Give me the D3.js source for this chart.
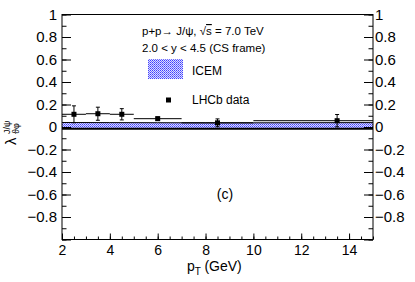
<!DOCTYPE html>
<html>
<head>
<meta charset="utf-8">
<script src="https://cdn.jsdelivr.net/npm/d3@7"></script>
<style>
  body { margin:0; background:#fff; }
  svg { display:block; font-family:"Liberation Sans", Arial, sans-serif; }
</style>
</head>
<body>
<svg id="chart" width="415" height="282"></svg>
<script>
// LHCb data points (pT bins, lambda_theta_phi)
const dataX    = [2.5, 3.5, 4.5, 6, 8.5, 13.5];
const dataXlo  = [2, 3, 4, 5, 7, 10];
const dataXhi  = [3, 4, 5, 7, 10, 15];
const dataY    = [0.113, 0.118, 0.113, 0.074, 0.037, 0.056];
const dataYerr = [0.075, 0.058, 0.05, 0.015, 0.035, 0.055];

// ICEM band
const bandX  = [2, 4, 6, 8, 10, 12, 15];
const bandHi = [0.040, 0.039, 0.038, 0.037, 0.037, 0.038, 0.039];
const bandLo = [-0.016, -0.016, -0.015, -0.015, -0.015, -0.015, -0.016];

const xMajor = [2, 4, 6, 8, 10, 12, 14];
const yMajor = [-1, -0.8, -0.6, -0.4, -0.2, 0, 0.2, 0.4, 0.6, 0.8, 1];

const svg = d3.select('#chart');
const m = {left:62, right:373, top:14.5, bottom:239.5};

const x = d3.scaleLinear().domain([2, 15]).range([m.left, m.right]);
const y = d3.scaleLinear().domain([-1, 1]).range([m.bottom, m.top]);

// hatch pattern for ICEM
const defs = svg.append('defs');
const pat = defs.append('pattern').attr('id','icem')
    .attr('width',2).attr('height',2).attr('patternUnits','userSpaceOnUse');
pat.append('rect').attr('width',2).attr('height',2).attr('fill','#dedeff');
pat.append('rect').attr('width',1).attr('height',1).attr('fill','#4040ff');
pat.append('rect').attr('x',1).attr('y',1).attr('width',1).attr('height',1).attr('fill','#7070ff');

const fmt = v => v === 0 ? '0' : (v === 1 ? '1' : d3.format('.1f')(v).replace('-', '\u2212'));

// band
const band = bandX.map((d,i) => ({x:d, hi:bandHi[i], lo:bandLo[i]}));
svg.append('path').datum(band)
    .attr('fill','url(#icem)')
    .attr('d', d3.area().x(d=>x(d.x)).y0(d=>y(d.lo)).y1(d=>y(d.hi)));
svg.append('path').datum(band)
    .attr('fill','none').attr('stroke','#000').attr('stroke-width',1)
    .attr('d', d3.line().x(d=>x(d.x)).y(d=>y(d.hi)));
svg.append('path').datum(band)
    .attr('fill','none').attr('stroke','#000').attr('stroke-width',2)
    .attr('d', d3.line().x(d=>x(d.x)).y(d=>y(d.lo)));

// data points
const pts = dataX.map((d,i) => ({x:d, lo:dataXlo[i], hi:dataXhi[i], y:dataY[i], e:dataYerr[i]}));
const g = svg.append('g').attr('stroke','#000').attr('stroke-width',1);
g.selectAll('line.xe').data(pts).join('line').attr('class','xe')
    .attr('x1', d=>x(d.lo)).attr('x2', d=>x(d.hi))
    .attr('y1', d=>y(d.y)).attr('y2', d=>y(d.y));
g.selectAll('line.ye').data(pts).join('line').attr('class','ye')
    .attr('x1', d=>x(d.x)).attr('x2', d=>x(d.x))
    .attr('y1', d=>y(d.y - d.e)).attr('y2', d=>y(d.y + d.e));
g.selectAll('line.cap').data(pts.flatMap(d=>[d.y-d.e, d.y+d.e].map(v=>({x:d.x, v})))).join('line').attr('class','cap')
    .attr('x1', d=>x(d.x)-2).attr('x2', d=>x(d.x)+2)
    .attr('y1', d=>y(d.v)).attr('y2', d=>y(d.v));
svg.selectAll('rect.pt').data(pts).join('rect').attr('class','pt')
    .attr('x', d=>x(d.x)-2.5).attr('y', d=>y(d.y)-2.5)
    .attr('width',5).attr('height',5).attr('fill','#000');

// frame
svg.append('rect').attr('x',m.left).attr('y',m.top)
    .attr('width',m.right-m.left).attr('height',m.bottom-m.top)
    .attr('fill','none').attr('stroke','#000').attr('stroke-width',1);

// axes (ticks inside the frame, like ROOT)
const yMinor = d3.range(-1, 1.0001, 0.1);
const xMinor = d3.range(2, 15.0001, 0.5);

const yL = svg.append('g').attr('transform',`translate(${m.left},0)`)
    .call(d3.axisLeft(y).tickValues(yMinor).tickSize(-4.5).tickFormat(''));
const yL2 = svg.append('g').attr('transform',`translate(${m.left},0)`)
    .call(d3.axisLeft(y).tickValues(yMajor).tickSize(-9).tickPadding(5)
        .tickFormat(d => d === -1 ? '' : fmt(d)));
const yR = svg.append('g').attr('transform',`translate(${m.right},0)`)
    .call(d3.axisRight(y).tickValues(yMinor).tickSize(-4.5).tickFormat(''));
const yR2 = svg.append('g').attr('transform',`translate(${m.right},0)`)
    .call(d3.axisRight(y).tickValues(yMajor).tickSize(-9).tickPadding(2)
        .tickFormat(d => d === -1 ? '' : fmt(d)));
const xB = svg.append('g').attr('transform',`translate(0,${m.bottom})`)
    .call(d3.axisBottom(x).tickValues(xMinor).tickSize(-3).tickFormat(''));
const xB2 = svg.append('g').attr('transform',`translate(0,${m.bottom})`)
    .call(d3.axisBottom(x).tickValues(xMajor).tickSize(-6).tickPadding(5.5));

[yL, yL2, yR, yR2, xB, xB2].forEach(a => {
    a.select('.domain').remove();
    a.selectAll('text').attr('fill','#000').style('font-size','15px')
        .style('font-family','"Liberation Sans", Arial, sans-serif');
});
xB2.selectAll('text').style('font-size','14px');

// axis titles
const yt = svg.append('g').attr('transform','translate(16,145) rotate(-90)')
    .style('font-family','"Liberation Sans", Arial, sans-serif');
yt.append('text').attr('x',0).attr('y',0).style('font-size','15px').text('\u03bb');
yt.append('text').attr('x',11).attr('y',3).style('font-size','9px').text('\u03d1\u03c6');
yt.append('text').attr('x',11).attr('y',-6).style('font-size','9px').text('J/\u03c8');

const xt = svg.append('text').attr('x',187).attr('y',271).style('font-size','14px');
xt.append('tspan').text('p');
xt.append('tspan').attr('dy',4).style('font-size','10px').text('T');
xt.append('tspan').attr('dy',-4).attr('dx',3.5).text('(GeV)');

// annotations
const t1 = svg.append('text').attr('x',142).attr('y',35).style('font-size','11.5px');
t1.append('tspan').text('p+p\u2192 J/\u03c8, \u221a');
t1.append('tspan').style('text-decoration','overline').text('s');
t1.append('tspan').text(' = 7.0 TeV');
svg.append('text').attr('x',142).attr('y',52).style('font-size','11.5px').text('2.0 < y < 4.5 (CS frame)');

// legend
svg.append('rect').attr('x',148).attr('y',59).attr('width',35).attr('height',20).attr('fill','url(#icem)');
svg.append('text').attr('x',192).attr('y',75).style('font-size','12px').text('ICEM');
svg.append('rect').attr('x',166).attr('y',97.5).attr('width',5).attr('height',5).attr('fill','#000');
svg.append('text').attr('x',192).attr('y',104).style('font-size','12px').text('LHCb data');

svg.append('text').attr('x',225).attr('y',199).attr('text-anchor','middle').style('font-size','14px').text('(c)');
</script>
</body>
</html>
